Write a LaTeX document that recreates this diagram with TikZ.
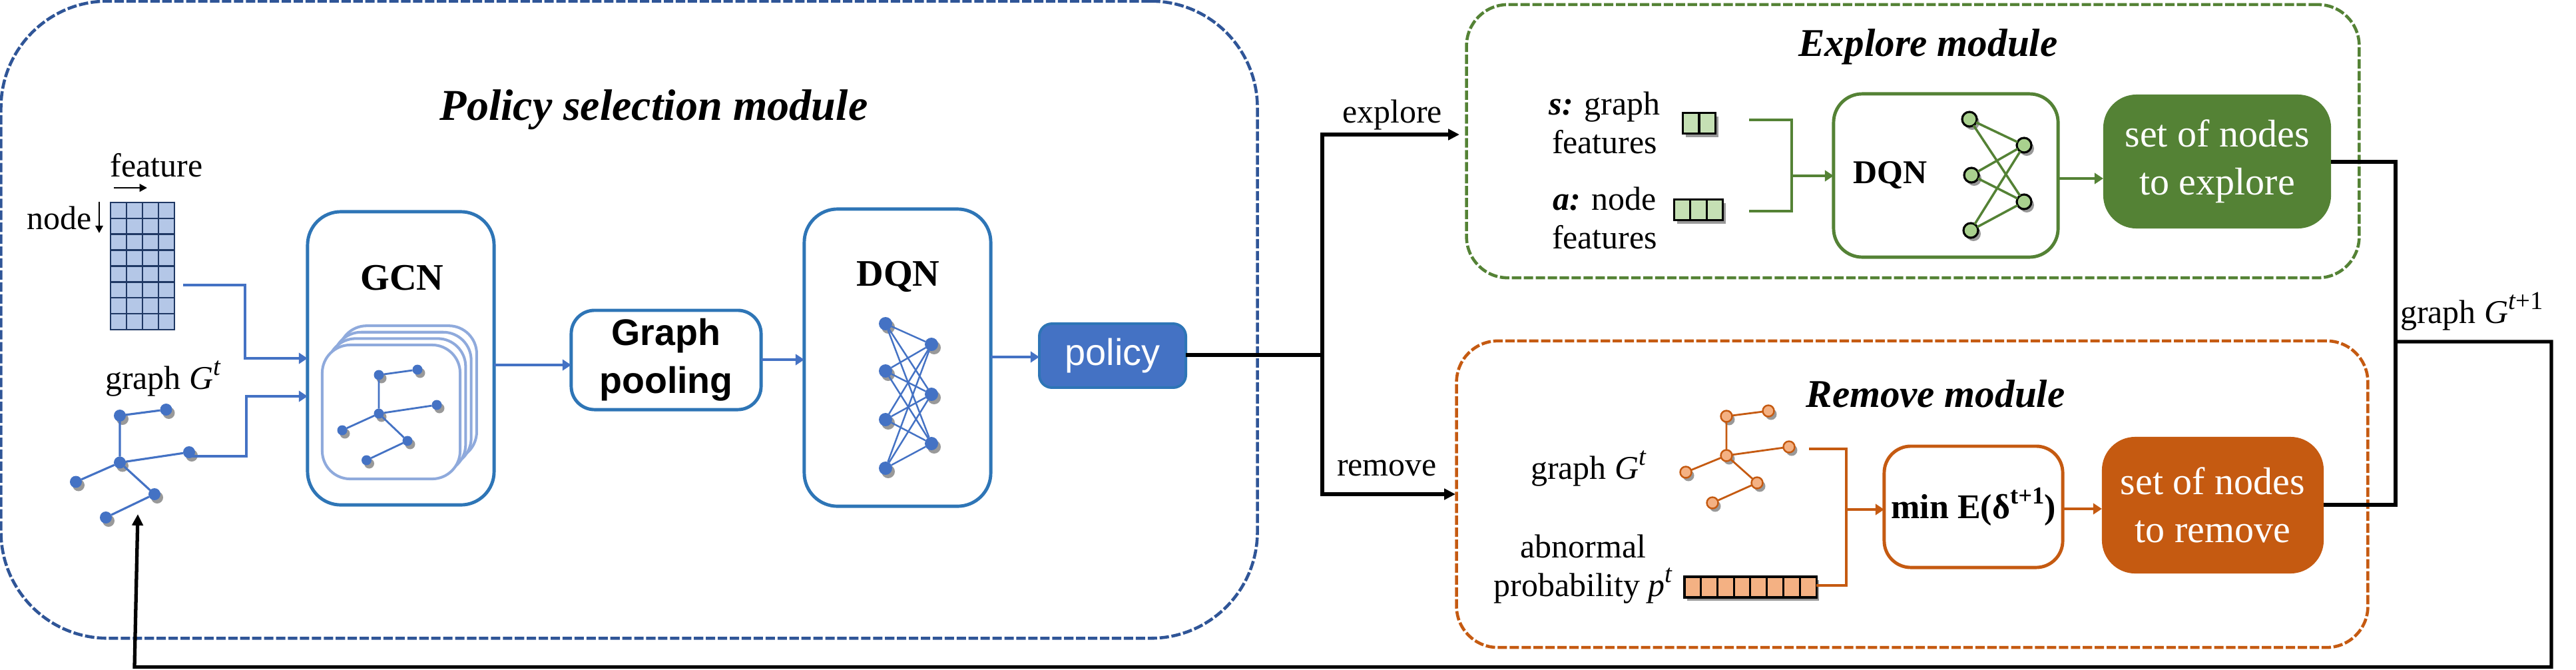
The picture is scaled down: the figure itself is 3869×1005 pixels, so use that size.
\documentclass[tikz,border=0pt]{standalone}
\usepackage{fontspec}
\setmainfont{Liberation Serif}
\newfontfamily\arialf{Liberation Sans}
\usetikzlibrary{arrows.meta,shadows,calc}
\definecolor{navy}{HTML}{2F5597}
\definecolor{boxblue}{HTML}{2E75B6}
\definecolor{blue1}{HTML}{4472C4}
\definecolor{lightblue}{HTML}{8FAADC}
\definecolor{cellblue}{HTML}{B4C7E7}
\definecolor{grid}{HTML}{1F3864}
\definecolor{green1}{HTML}{548235}
\definecolor{green2}{HTML}{A9D18E}
\definecolor{green3}{HTML}{C5E0B4}
\definecolor{orange1}{HTML}{C55A11}
\definecolor{orange2}{HTML}{F4B183}
\newcommand\fs[2]{\fontsize{#1}{#2}\selectfont}
\newcommand\supt[1]{\raisebox{.42em}{\fontsize{11}{11}\selectfont #1}}
\tikzset{
  softshadow/.style={drop shadow={shadow xshift=.04cm,shadow yshift=-.05cm,opacity=.4,fill=black}},
  lbl/.style={inner sep=0pt,outer sep=0pt,align=center,font=\fs{14.2}{16.5}},
  title/.style={inner sep=0pt,outer sep=0pt,font=\bfseries\itshape\fs{16.8}{20}},
  mod/.style={dash pattern=on 4pt off 1.1pt,line width=1.3pt,rounded corners=1.6cm,inner sep=0pt,outer sep=0pt,draw},
  panel/.style={draw,rounded corners=.5cm,line width=1.4pt,fill=white,inner sep=0pt,outer sep=0pt,align=center},
  solidbox/.style={rounded corners=.5cm,inner sep=0pt,outer sep=0pt,align=center,text=white},
  gblue/.style={circle,fill=blue1,minimum size=.18cm,inner sep=0pt,outer sep=0pt,softshadow},
  gblues/.style={circle,fill=blue1,minimum size=.15cm,inner sep=0pt,outer sep=0pt,softshadow},
  gnet/.style={circle,fill=blue1,minimum size=.2cm,inner sep=0pt,outer sep=0pt,softshadow},
  ggreen/.style={circle,draw=black,fill=green2,line width=.9pt,minimum size=.22cm,inner sep=0pt,outer sep=0pt,softshadow},
  gorange/.style={circle,draw=orange1,fill=orange2,line width=.7pt,minimum size=.17cm,inner sep=0pt,outer sep=0pt,softshadow},
  bluearr/.style={blue1,line width=1.4pt,-{Triangle[length=3.7pt,width=4.6pt]}},
  greenarr/.style={green1,line width=1.4pt,-{Triangle[length=3.7pt,width=4.6pt]}},
  orangearr/.style={orange1,line width=1.2pt,-{Triangle[length=3.7pt,width=4.6pt]}},
  blackarr/.style={black,line width=1.5pt,-{Triangle[length=4.8pt,width=4.6pt]}},
  blackline/.style={black,line width=1.5pt},
  smallarr/.style={black,line width=.8pt,-{Triangle[length=3.2pt,width=3.2pt]}},
}
\begin{document}
\begin{tikzpicture}[x=.01cm,y=-.01cm]
\useasboundingbox (0,0) rectangle (3869,1005);
% modules
\node[mod,draw=navy,minimum width=18.86cm,minimum height=9.56cm] (polmod) at (945,480) {};
\node[mod,draw=green1,rounded corners=.62cm,minimum width=13.40cm,minimum height=4.10cm] (expmod) at (2873,212) {};
\node[mod,draw=orange1,rounded corners=.62cm,minimum width=13.68cm,minimum height=4.60cm] (remmod) at (2872,742) {};
\node[title,font=\bfseries\itshape\fs{18.8}{20}] (poltitle) at (982,165) {Policy selection module};
\node[title] (exptitle) at (2896,70) {Explore module};
\node[title] (remtitle) at (2907,591) {Remove module};
% feature matrix
\node[lbl] (featlbl) at (235,248) {feature};
\node[lbl,anchor=east] (nodelbl) at (138,327) {node};
\coordinate (fa1) at (171,282); \coordinate (fa2) at (221,282);
\coordinate (na1) at (149,303); \coordinate (na2) at (149,350);
\draw[smallarr] (fa1) -- (fa2);
\draw[smallarr] (na1) -- (na2);
\node[draw=grid,fill=cellblue,line width=.7pt,minimum width=.96cm,minimum height=1.91cm,inner sep=0pt,outer sep=0pt] (mat) at (214,399.5) {};
\foreach \i in {1,2,3} \draw[grid,line width=.7pt] ($(mat.north west)+(24*\i,0)$) -- ($(mat.south west)+(24*\i,0)$);
\foreach \i in {1,...,7} \draw[grid,line width=.7pt] ($(mat.north west)+(0,23.875*\i)$) -- ($(mat.north east)+(0,23.875*\i)$);
% graph G^t
\node[lbl] (glbl) at (245,568) {graph \textit{G}\supt{\textit{t}}};
\node[gblue] (a) at (180,624) {};
\node[gblue] (b) at (249.5,615) {};
\node[gblue] (c) at (180,694.5) {};
\node[gblue] (d) at (284,679) {};
\node[gblue] (e) at (114,723.5) {};
\node[gblue] (f) at (232,742) {};
\node[gblue] (g) at (159,777) {};
\draw[blue1,line width=.9pt] (a)--(b) (a)--(c) (c)--(d) (c)--(e) (c)--(f) (f)--(g);
% GCN
\node[panel,draw=boxblue,minimum width=2.80cm,minimum height=4.40cm] (gcn) at (602,538) {};
\node[inner sep=0pt,font=\bfseries\fs{16}{18}] (gcnlbl) at (604,417) {GCN};
\foreach \k in {3,2,1,0}
  \node[draw=lightblue,fill=white,line width=1.15pt,rounded corners=.42cm,minimum width=2.07cm,minimum height=2.01cm,inner sep=0pt,outer sep=0pt] (stack\k) at (587.5+8.3*\k,618.5-9.6*\k) {};
\node[gblues] (a2) at (569,563) {};
\node[gblues] (b2) at (627,555) {};
\node[gblues] (c2) at (569,621) {};
\node[gblues] (d2) at (656,608) {};
\node[gblues] (e2) at (514,646) {};
\node[gblues] (f2) at (612,662) {};
\node[gblues] (g2) at (550.5,691) {};
\draw[blue1,line width=.8pt] (a2)--(b2) (a2)--(c2) (c2)--(d2) (c2)--(e2) (c2)--(f2) (f2)--(g2);
% pooling
\node[panel,draw=boxblue,rounded corners=.35cm,minimum width=2.85cm,minimum height=1.49cm,font=\arialf\bfseries\fs{15.8}{20.5}] (pool) at (1000.5,540.5) {Graph\\pooling};
% DQN
\node[panel,draw=boxblue,minimum width=2.80cm,minimum height=4.46cm] (dqn) at (1348,537) {};
\node[inner sep=0pt,font=\bfseries\fs{16}{18}] (dqnlbl) at (1349,415) {DQN};
\foreach \n/\y in {1/486,2/557,3/630,4/703} \node[gnet] (L\n) at (1330,\y) {};
\foreach \n/\y in {1/517,2/592,3/666} \node[gnet] (R\n) at (1399,\y) {};
\foreach \n in {1,2,3,4} \foreach \m in {1,2,3} \draw[blue1,line width=.7pt] (L\n)--(R\m);
% policy
\node[draw=boxblue,fill=blue1,rounded corners=.19cm,line width=1.1pt,minimum width=2.20cm,minimum height=.96cm,inner sep=0pt,outer sep=0pt,text=white,font=\arialf\fs{15.9}{18}] (policy) at (1671,534) {policy};
% blue connectors
\coordinate (matout) at (275,428);
\coordinate (gcnin1) at (gcn.west |- 0,538);
\coordinate (gcnin2) at (gcn.west |- 0,595);
\draw[bluearr] (matout) -- ++(93,0) |- (gcnin1);
\draw[bluearr] (d) ++(0,6) -- ++(86,0) |- (gcnin2);
\draw[bluearr] (gcn.east |- 0,548) -- (pool.west |- 0,548);
\draw[bluearr] (pool.east |- 0,540) -- (dqn.west |- 0,540);
\draw[bluearr] (dqn.east |- 0,536) -- (policy.west |- 0,536);
% branch
\coordinate (junction) at (1986,533);
\node[lbl] (explbl) at (2091,172) {explore};
\node[lbl] (remlbl) at (2083,703) {remove};
\draw[blackline] (policy.east |- 0,533) -- (junction);
\draw[blackarr] (junction) |- (2192,202);
\draw[blackarr] (junction) |- (2186,742);
% explore module
\node[lbl] (slbl) at (2410,184) {\textbf{\textit{s:}} graph\\features};
\node[lbl] (albl) at (2410,327) {\textbf{\textit{a:}} node\\features};
\node[draw=black,fill=green3,line width=.9pt,minimum width=.49cm,minimum height=.31cm,inner sep=0pt,outer sep=0pt,softshadow] (svec) at (2552,185) {};
\draw[black,line width=.9pt] (svec.north) -- (svec.south);
\node[draw=black,fill=green3,line width=.9pt,minimum width=.73cm,minimum height=.31cm,inner sep=0pt,outer sep=0pt,softshadow] (avec) at (2551,315) {};
\foreach \i in {1,2} \draw[black,line width=.9pt] ($(avec.north west)+(24.33*\i,0)$) -- ($(avec.south west)+(24.33*\i,0)$);
\node[panel,draw=green1,rounded corners=.43cm,minimum width=3.37cm,minimum height=2.45cm] (dqn2) at (2922.5,263.5) {};
\node[inner sep=0pt,font=\bfseries\fs{14.2}{18}] (dqn2lbl) at (2839,263) {DQN};
\foreach \n/\x/\y in {1/2958/179,2/2961/263,3/2960/346} \node[ggreen] (GL\n) at (\x,\y) {};
\foreach \n/\y in {1/218,2/303} \node[ggreen] (GR\n) at (3040,\y) {};
\foreach \n in {1,2,3} \foreach \m in {1,2} \draw[green1,line width=1pt] (GL\n)--(GR\m);
\node[solidbox,fill=green1,minimum width=3.42cm,minimum height=2.01cm,font=\fs{16.5}{20.5}] (exp) at (3330,242.5) {set of nodes\\to explore};
\coordinate (s1) at (2627,180); \coordinate (a1) at (2627,317);
\coordinate (gj) at (2691,264);
\draw[green1,line width=1.4pt] (s1) -| (gj);
\draw[green1,line width=1.4pt] (a1) -| (gj);
\draw[greenarr] (gj) -- (dqn2.west |- gj);
\draw[greenarr] (dqn2.east |- 0,268) -- (exp.west |- 0,268);
% remove module
\node[lbl] (g3lbl) at (2386,703) {graph \textit{G}\supt{\textit{t}}};
\node[gorange] (a3) at (2593,625) {};
\node[gorange] (b3) at (2656,617) {};
\node[gorange] (c3) at (2593,684) {};
\node[gorange] (d3) at (2687,671) {};
\node[gorange] (e3) at (2532,709) {};
\node[gorange] (f3) at (2639,725) {};
\node[gorange] (g3) at (2572,755) {};
\draw[orange1,line width=.8pt] (a3)--(b3) (a3)--(c3) (c3)--(d3) (c3)--(e3) (c3)--(f3) (f3)--(g3);
\node[lbl] (problbl) at (2378,855) {abnormal\\probability \textit{p}\supt{\textit{t}}};
\node[draw=black,fill=orange2,line width=.9pt,minimum width=1.98cm,minimum height=.31cm,inner sep=0pt,outer sep=0pt,softshadow] (pvec) at (2629,881.5) {};
\foreach \i in {1,...,7} \draw[black,line width=.85pt] ($(pvec.north west)+(24.75*\i,0)$) -- ($(pvec.south west)+(24.75*\i,0)$);
\node[panel,draw=orange1,rounded corners=.4cm,minimum width=2.68cm,minimum height=1.82cm,font=\bfseries\fs{14.8}{18}] (minbox) at (2964,761) {min E(δ\raisebox{.42em}{\fs{10.4}{11}t+1})};
\node[solidbox,fill=orange1,minimum width=3.33cm,minimum height=2.05cm,font=\fs{16.5}{20.5}] (rem) at (3323.5,758.5) {set of nodes\\to remove};
\coordinate (g3out) at (2717,674);
\coordinate (oj) at (2773,765);
\draw[orange1,line width=1.4pt] (g3out) -| (oj);
\draw[orange1,line width=1.4pt] (pvec.east |- 0,879) -| (oj);
\draw[orangearr] (oj) -- (minbox.west |- oj);
\draw[orangearr] (minbox.east |- 0,764) -- (rem.west |- 0,764);
% output and feedback
\coordinate (v1) at (3598,243);
\coordinate (v2) at (3598,758);
\coordinate (fb1) at (3832,513);
\coordinate (fb2) at (3832,1001.5);
\coordinate (fb3) at (202,1001.5);
\coordinate (fb4) at (207,772);
\draw[blackline] (exp.east |- v1) -- (v1) -- (v2) -- (rem.east |- v2);
\draw[blackarr] (v1 |- fb1) -- (fb1) -- (fb2) -- (fb3) -- (fb4);
\node[lbl,anchor=west] (g4lbl) at (3605,468) {graph \textit{G}\supt{\textit{t}+1}};
\end{tikzpicture}
\end{document}
